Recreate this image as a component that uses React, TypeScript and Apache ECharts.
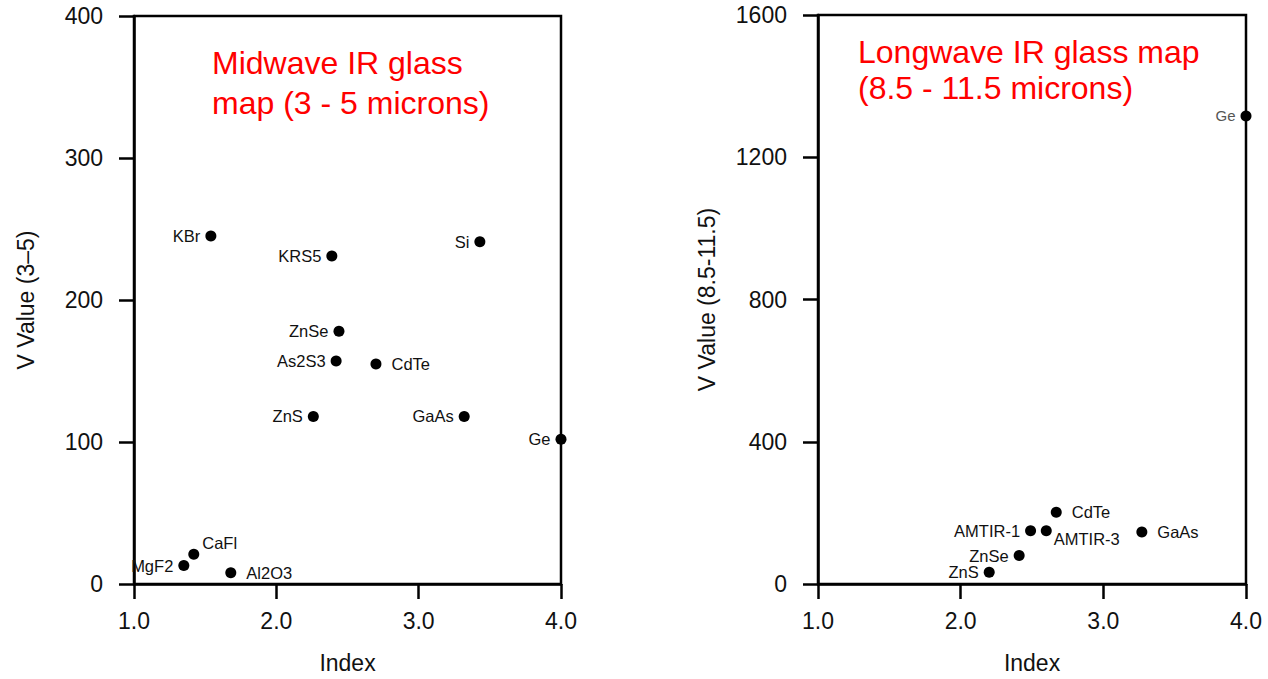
import React, { useEffect, useRef } from "react";
import * as echarts from "echarts";

// Midwave IR glass map (3 - 5 microns)
const midNames = ["KBr", "KRS5", "Si", "ZnSe", "As2S3", "CdTe", "ZnS", "GaAs", "Ge", "CaFl", "MgF2", "Al2O3"];
const midIndex = [1.54, 2.39, 3.43, 2.44, 2.42, 2.7, 2.26, 3.32, 4.0, 1.42, 1.35, 1.68];
const midV = [245, 231, 241, 178, 157, 155, 118, 118, 102, 21, 13, 8];
const midLabelSide = ["left", "left", "left", "left", "left", "right", "left", "left", "left", "topright", "left", "right"];

// Longwave IR glass map (8.5 - 11.5 microns)
const longNames = ["Ge", "CdTe", "AMTIR-1", "AMTIR-3", "GaAs", "ZnSe", "ZnS"];
const longIndex = [4.0, 2.67, 2.49, 2.6, 3.27, 2.41, 2.2];
const longV = [1316, 202, 150, 150, 146, 80, 33];
const longLabelSide = ["left", "right", "left", "bottomright", "right", "left", "left"];

const FONT = "'Liberation Sans', Arial, Helvetica, sans-serif";

function labelFor(side: string, small: boolean) {
  const base: any = {
    show: true,
    fontFamily: FONT,
    fontSize: small ? 15 : 16.5,
    color: small ? "#555" : "#111",
  };
  if (side === "left") return { ...base, position: "left", distance: 5 };
  if (side === "right") return { ...base, position: "right", distance: 10 };
  if (side === "topright") return { ...base, position: [14, -6], align: "left", verticalAlign: "middle" };
  return { ...base, position: [13, 13.5], align: "left", verticalAlign: "middle" };
}

function buildData(names: string[], xs: number[], ys: number[], sides: string[], smallName?: string) {
  return names.map((n, i) => ({
    name: n,
    value: [xs[i], ys[i]],
    label: { ...labelFor(sides[i], n === smallName), formatter: n },
  }));
}

const axisText = { fontFamily: FONT, fontSize: 23, color: "#111" };

function xAxisFor(gridIndex: number) {
  return {
    type: "value",
    gridIndex,
    min: 1,
    max: 4,
    interval: 1,
    name: "Index",
    nameLocation: "middle",
    nameGap: 67,
    nameTextStyle: { ...axisText, lineHeight: 23 },
    axisLine: { show: true, onZero: false, lineStyle: { color: "#000", width: 2.5 } },
    axisTick: { show: true, inside: false, length: 15, lineStyle: { color: "#000", width: 2.5 } },
    axisLabel: { ...axisText, margin: 25, lineHeight: 23, formatter: (v: number) => v.toFixed(1) },
    splitLine: { show: false },
  };
}

function yAxisFor(gridIndex: number, max: number, interval: number, name: string, nameGap: number) {
  return {
    type: "value",
    gridIndex,
    min: 0,
    max,
    interval,
    name,
    nameLocation: "middle",
    nameGap,
    nameTextStyle: { ...axisText, lineHeight: 23 },
    axisLine: { show: true, onZero: false, lineStyle: { color: "#000", width: 2.5 } },
    axisTick: { show: true, inside: false, length: 15, lineStyle: { color: "#000", width: 2.5 } },
    axisLabel: { ...axisText, margin: 31, formatter: (v: number) => String(v) },
    splitLine: { show: false },
  };
}

export default function App() {
  const ref = useRef<HTMLDivElement>(null);
  useEffect(() => {
    if (!ref.current) return;
    const chart = echarts.init(ref.current, undefined, { renderer: "svg" });
    const titleStyle = { fill: "#ff0000", fontSize: 32, fontFamily: FONT, textBaseline: "alphabetic", verticalAlign: "bottom" };
    chart.setOption({
      animation: false,
      backgroundColor: "#ffffff",
      grid: [
        { left: 134, top: 16, width: 427, height: 570, show: true, borderColor: "#000", borderWidth: 2.5, backgroundColor: "transparent" },
        { left: 818, top: 15, width: 428, height: 570, show: true, borderColor: "#000", borderWidth: 2.5, backgroundColor: "transparent" },
      ],
      xAxis: [xAxisFor(0), xAxisFor(1)],
      yAxis: [
        yAxisFor(0, 400, 100, "V Value (3\u20135)", 97),
        yAxisFor(1, 1600, 400, "V Value (8.5-11.5)", 100),
      ],
      series: [
        {
          type: "scatter",
          xAxisIndex: 0,
          yAxisIndex: 0,
          symbol: "circle",
          symbolSize: 11,
          clip: false,
          itemStyle: { color: "#000", opacity: 1 },
          data: buildData(midNames, midIndex, midV, midLabelSide),
        },
        {
          type: "scatter",
          xAxisIndex: 1,
          yAxisIndex: 1,
          symbol: "circle",
          symbolSize: 11,
          clip: false,
          itemStyle: { color: "#000", opacity: 1 },
          data: buildData(longNames, longIndex, longV, longLabelSide, "Ge"),
        },
      ],
      graphic: [
        { type: "text", x: 212, y: 79, style: { ...titleStyle, text: "Midwave IR glass" } },
        { type: "text", x: 212, y: 119, style: { ...titleStyle, text: "map (3 - 5 microns)" } },
        { type: "text", x: 858, y: 68, style: { ...titleStyle, text: "Longwave IR glass map" } },
        { type: "text", x: 858, y: 104, style: { ...titleStyle, text: "(8.5 - 11.5 microns)" } },
      ],
    });
    return () => chart.dispose();
  }, []);
  return (
    <div
      ref={ref}
      style={{ position: "fixed", left: 0, top: 0, width: 1268, height: 679, background: "#fff" }}
    />
  );
}
